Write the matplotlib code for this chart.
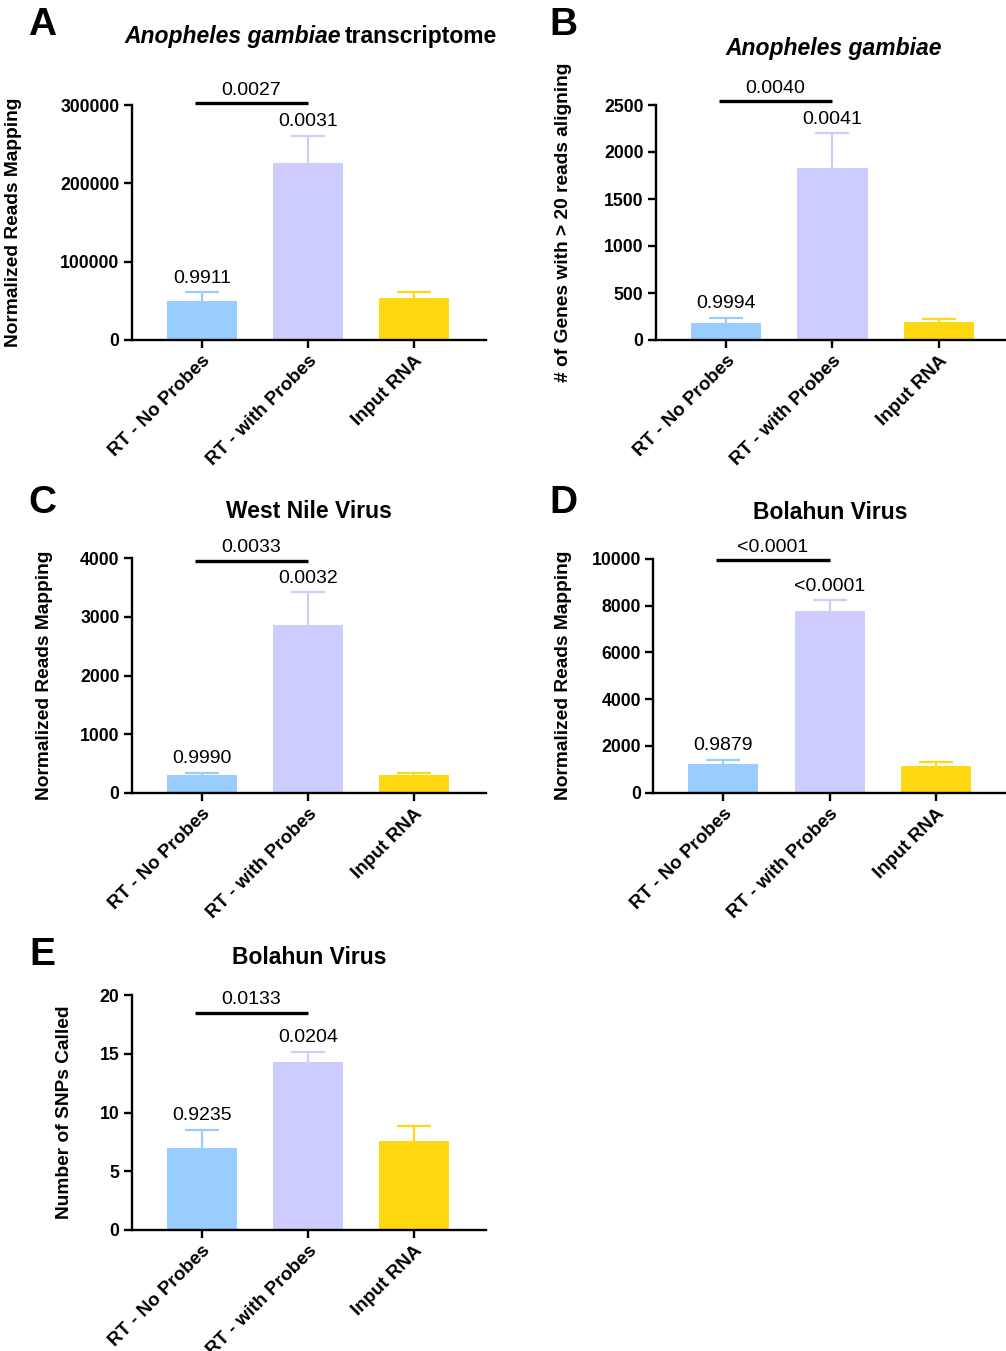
import numpy as np
import matplotlib
matplotlib.use('Agg')
from matplotlib import pyplot as plt

plt.rcParams['font.family'] = ['Liberation Sans', 'DejaVu Sans']

groups = ['RT - No Probes', 'RT - with Probes', 'Input RNA']
colors = ['#99CCFF', '#CCCCFF', '#FFD811']

# panel data: means, upper error (SEM), p-values vs input, p-value between RT groups
a_mean = [50200, 226300, 54000]
a_err = [10700, 34500, 7700]
a_p = ['0.9911', '0.0031', '']
a_sig = '0.0027'

b_mean = [177, 1827, 188]
b_err = [61, 372, 35]
b_p = ['0.9994', '0.0041', '']
b_sig = '0.0040'

c_mean = [307, 2862, 297]
c_err = [34, 558, 39]
c_p = ['0.9990', '0.0032', '']
c_sig = '0.0033'

d_mean = [1226, 7764, 1154]
d_err = [170, 450, 171]
d_p = ['0.9879', '<0.0001', '']
d_sig = '<0.0001'

e_mean = [6.95, 14.3, 7.6]
e_err = [1.56, 0.87, 1.25]
e_p = ['0.9235', '0.0204', '']
e_sig = '0.0133'

W, H = 1006, 1351
fig = plt.figure(figsize=(W / 100, H / 100), dpi=100)


def px_axes(left, top, right, bottom):
    return fig.add_axes([left / W, 1 - bottom / H, (right - left) / W, (bottom - top) / H])


def panel(box, mean, err, pvals, sig, sig_y, ymax, yticks, ylabel, label_x, title, title_y, letter, letter_xy):
    ax = px_axes(*box)
    x = np.arange(len(groups))
    ax.bar(x, mean, width=0.66, color=colors, zorder=2)
    for i in range(len(groups)):
        # symmetric bar drawn behind the column so only the upper half shows
        ax.errorbar(x[i], mean[i], yerr=err[i], color=colors[i],
                    capsize=12, elinewidth=1.6, capthick=1.6, zorder=1)
        if pvals[i]:
            ax.annotate(pvals[i], (x[i], mean[i] + err[i]), xytext=(0, 4),
                        textcoords='offset points', ha='center', va='bottom', fontsize=14)
    ax.plot([-0.07, 1.0], [sig_y, sig_y], color='black', lw=2.4, clip_on=False,
            solid_capstyle='butt')
    ax.annotate(sig, (0.465, sig_y), xytext=(0, 3), textcoords='offset points',
                ha='center', va='bottom', fontsize=14, annotation_clip=False)
    ax.set_xlim(-0.66, 2.68)
    ax.set_ylim(0, ymax)
    ax.set_yticks(yticks)
    ax.set_xticks(x)
    ax.set_xticklabels(groups, rotation=45, ha='right', rotation_mode='anchor',
                       fontsize=13.5, fontweight='bold')
    for t in ax.get_yticklabels():
        t.set_fontsize(12.7)
        t.set_fontweight('bold')
    ax.spines['top'].set_visible(False)
    ax.spines['right'].set_visible(False)
    ax.spines['left'].set_linewidth(1.7)
    ax.spines['bottom'].set_linewidth(1.7)
    ax.tick_params(axis='both', direction='out', length=6, width=1.7, pad=3)
    ax.set_ylabel(ylabel, fontsize=13.8, fontweight='bold')
    ax.yaxis.set_label_coords(label_x, 0.5)
    cx = (box[0] + box[2]) / 2
    if title:
        fig.text(cx / W, 1 - title_y / H, title, fontsize=16.5, fontweight='bold',
                 ha='center', va='center', fontstyle='italic' if italic_title(title) else 'normal')
    fig.text(letter_xy[0] / W, 1 - letter_xy[1] / H, letter, fontsize=28,
             fontweight='bold', ha='center', va='center')
    return ax


def italic_title(t):
    return t.startswith('Anopheles')


# A
panel((132, 105, 486, 340), a_mean, a_err, a_p, a_sig, 302900, 300000,
      [0, 100000, 200000, 300000], 'Normalized Reads Mapping', -0.311,
      '', 36, 'A', (42, 25))
tA = fig.text(124 / W, 1 - 36 / H, 'Anopheles gambiae', fontsize=16.5, fontweight='bold',
              fontstyle='italic', ha='left', va='center')
fig.canvas.draw()
bb = tA.get_window_extent()
fig.text((bb.x1 + 4) / W, 1 - 36 / H, 'transcriptome', fontsize=16.5, fontweight='bold',
         ha='left', va='center')

# B
panel((656, 105, 1011, 340), b_mean, b_err, b_p, b_sig, 2546, 2500,
      [0, 500, 1000, 1500, 2000, 2500], '# of Genes with > 20 reads aligning', -0.237,
      'Anopheles gambiae', 48, 'B', (563, 25))

# C
panel((132, 558.3, 486, 792.7), c_mean, c_err, c_p, c_sig, 3960, 4000,
      [0, 1000, 2000, 3000, 4000], 'Normalized Reads Mapping', -0.223,
      'West Nile Virus', 512, 'C', (42, 503))

# D
panel((653.3, 558.7, 1008, 792.7), d_mean, d_err, d_p, d_sig, 9944, 10000,
      [0, 2000, 4000, 6000, 8000, 10000], 'Normalized Reads Mapping', -0.23,
      'Bolahun Virus', 513, 'D', (563, 503))

# E
panel((132, 995, 486, 1230), e_mean, e_err, e_p, e_sig, 18.5, 20,
      [0, 5, 10, 15, 20], 'Number of SNPs Called', -0.167,
      'Bolahun Virus', 957, 'E', (42, 955))

fig.savefig('out.png', dpi=100)
